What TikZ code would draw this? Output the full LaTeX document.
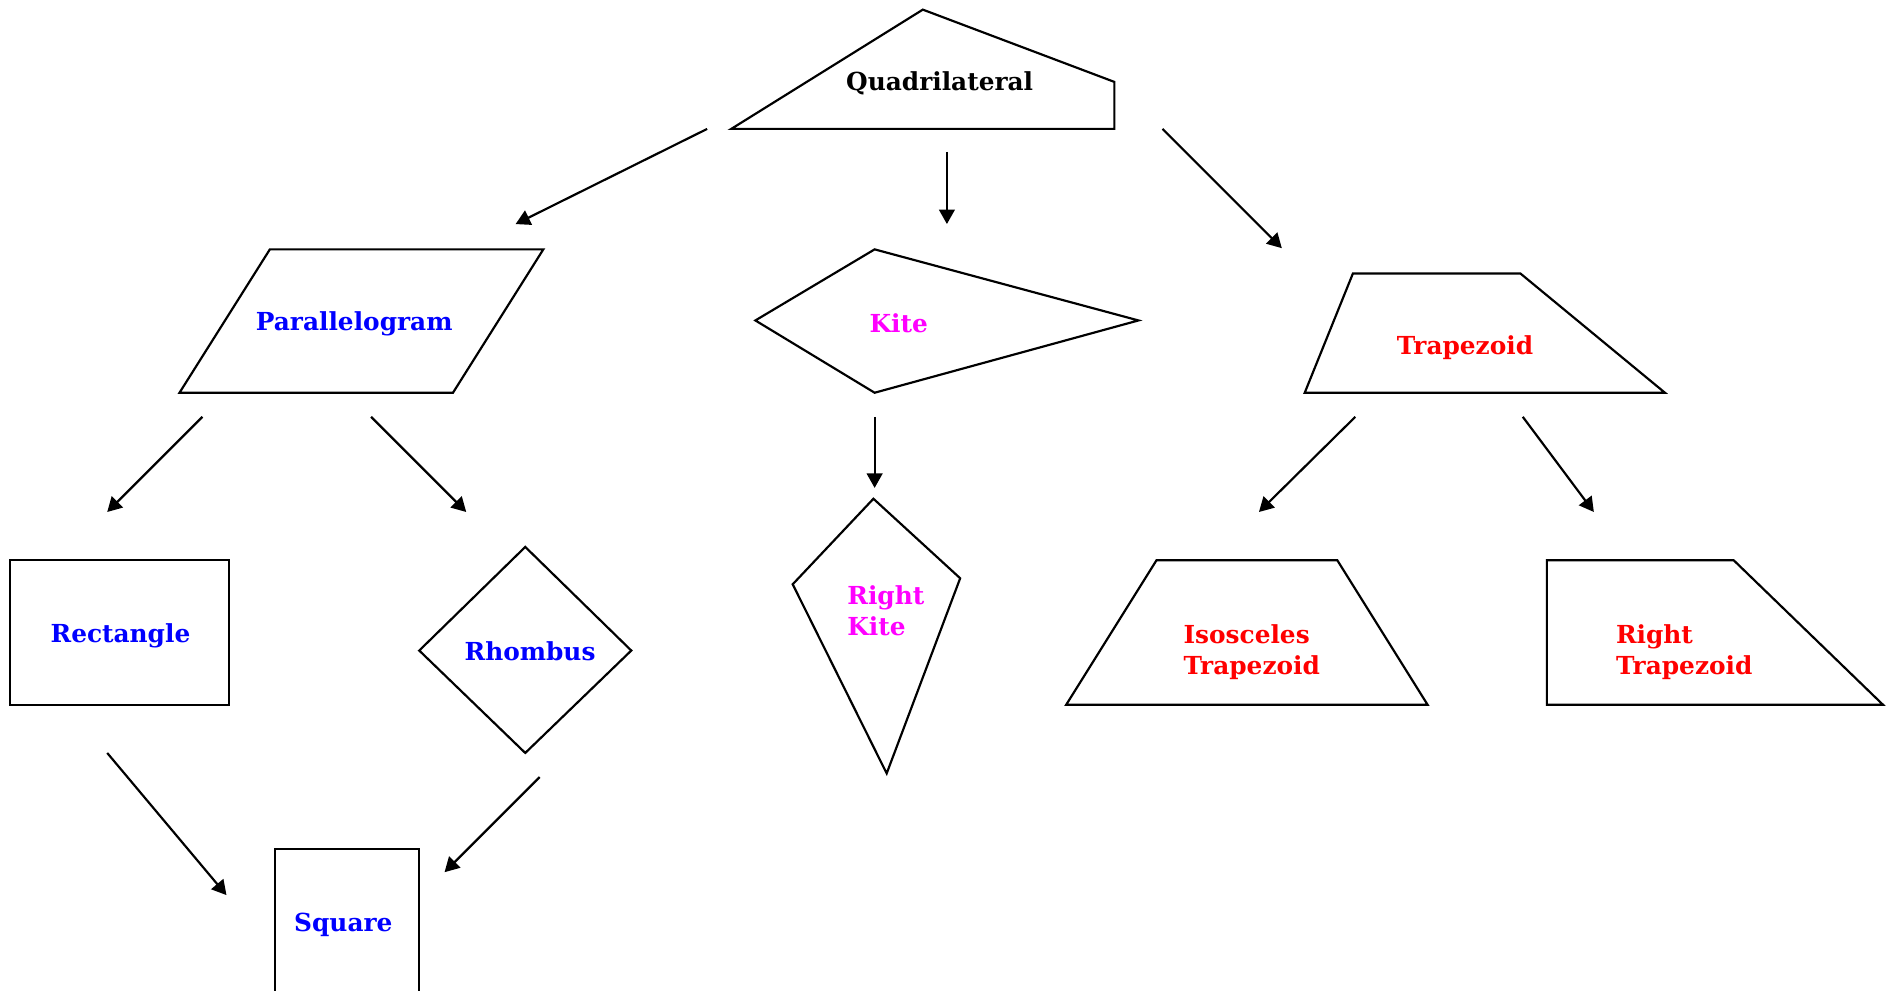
\documentclass[tikz,border=0pt]{standalone}
\usepackage{fontspec}
\setmainfont{DejaVu Serif}
\usetikzlibrary{arrows.meta}
\definecolor{cblue}{RGB}{0,0,255}
\definecolor{cmag}{RGB}{255,0,255}
\definecolor{cred}{RGB}{255,0,0}
\begin{document}
\begin{tikzpicture}[x=0.5pt,y=-0.5pt,
  shp/.style={draw=black, line width=0.9pt, line join=miter},
  lbl/.style={font=\fontsize{10.3}{12.8}\selectfont\bfseries, inner sep=0pt},
  arr/.style={draw=black, line width=0.9pt, -{Triangle[length=6pt,width=6.5pt]}}]
\useasboundingbox (0,0) rectangle (1568,822);
% shapes
\draw[shp] (607,107) -- (766,8) -- (925,68) -- (925,107) -- cycle;
\draw[shp] (149,326) -- (224,207) -- (451,207) -- (376,326) -- cycle;
\draw[shp] (627,266) -- (726,207) -- (945,266) -- (726,326) -- cycle;
\draw[shp] (1083,326) -- (1123,227) -- (1262,227) -- (1382,326) -- cycle;
\draw[shp] (8,465) rectangle (190,585);
\draw[shp] (348,540) -- (436,454) -- (524,540) -- (436,625) -- cycle;
\draw[shp] (658,485) -- (725,414) -- (797,480) -- (736,642) -- cycle;
\draw[shp] (885,585) -- (960,465) -- (1110,465) -- (1185,585) -- cycle;
\draw[shp] (1284,585) -- (1284,465) -- (1439,465) -- (1563,585) -- cycle;
\draw[shp] (228,823) -- (228,705) -- (348,705) -- (348,823);
% labels
\node[lbl] (quad) at (780,69.5) {Quadrilateral};
\node[lbl, text=cblue] (para) at (294,268.5) {Parallelogram};
\node[lbl, text=cmag] (kite) at (746,268.5) {Kite};
\node[lbl, text=cred] (trap) at (1216,288.5) {Trapezoid};
\node[lbl, text=cblue] (rect) at (100,527.5) {Rectangle};
\node[lbl, text=cblue] (rhom) at (440,540.5) {Rhombus};
\node[lbl, text=cmag, align=left, anchor=west] (rkite) at (703,507) {Right\\Kite};
\node[lbl, text=cred, align=left, anchor=west] (itrap) at (982,541) {Isosceles\\Trapezoid};
\node[lbl, text=cred, align=left, anchor=west] (rtrap) at (1341,541) {Right\\Trapezoid};
\node[lbl, text=cblue] (sq) at (285,767.5) {Square};
% connector end points
\coordinate (q1) at (587,107); \coordinate (p1) at (428,186);
\coordinate (q2) at (786,126); \coordinate (k1) at (786,186);
\coordinate (q3) at (965,107); \coordinate (t1) at (1064,206);
\coordinate (pa) at (168,346); \coordinate (re1) at (89,425);
\coordinate (pb) at (308,346); \coordinate (rh1) at (387,425);
\coordinate (ka) at (726,346); \coordinate (rk1) at (726,405);
\coordinate (ta) at (1125,346); \coordinate (it1) at (1045,425);
\coordinate (tb) at (1264,346); \coordinate (rt1) at (1323,425);
\coordinate (rea) at (89,625); \coordinate (sq1) at (188,743);
\coordinate (rha) at (448,645); \coordinate (sq2) at (369,724);
% connectors
\draw[arr] (q1) -- (p1);
\draw[arr] (q2) -- (k1);
\draw[arr] (q3) -- (t1);
\draw[arr] (pa) -- (re1);
\draw[arr] (pb) -- (rh1);
\draw[arr] (ka) -- (rk1);
\draw[arr] (ta) -- (it1);
\draw[arr] (tb) -- (rt1);
\draw[arr] (rea) -- (sq1);
\draw[arr] (rha) -- (sq2);
\end{tikzpicture}
\end{document}
